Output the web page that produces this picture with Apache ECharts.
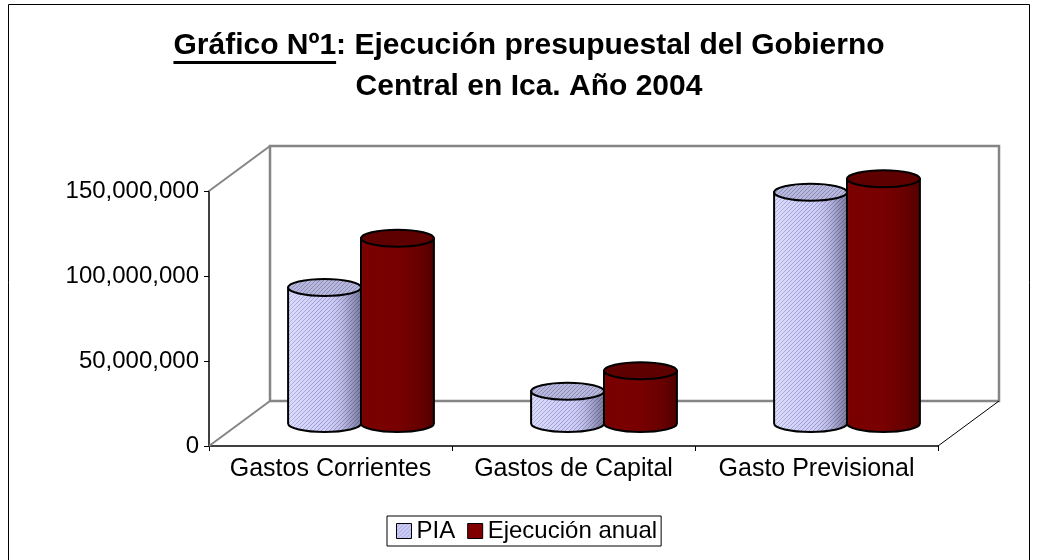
<!DOCTYPE html>
<html>
<head>
<meta charset="utf-8">
<script src="https://cdn.jsdelivr.net/npm/echarts@6/dist/echarts.min.js"></script>
<style>
  html, body { margin: 0; padding: 0; background: #fff; }
  #chart { width: 1038px; height: 560px; }
</style>
</head>
<body>
<div id="chart"></div>
<script>
const categories = ["Gastos Corrientes", "Gastos de Capital", "Gasto Previsional"];
const seriesNames = ["PIA", "Ejecución anual"];
const piaValues = [80000000, 19000000, 136000000];
const ejecucionValues = [109000000, 31000000, 144000000];
const yTicks = [0, 50000000, 100000000, 150000000];

const FONT = '"Liberation Sans", Arial, sans-serif';
// depth of the fake 3d box (back wall offset)
const DEPTH_X = 61;
const DEPTH_Y = -45;

function addCommas(v) {
  return String(v).replace(/\B(?=(\d{3})+(?!\d))/g, ",");
}

// small diagonal hatch used for the PIA fill
function makeHatch(bg, line) {
  const c = document.createElement("canvas");
  c.width = 4;
  c.height = 4;
  const g = c.getContext("2d");
  g.fillStyle = bg;
  g.fillRect(0, 0, 4, 4);
  g.fillStyle = line;
  for (let i = 0; i < 4; i++) g.fillRect(3 - i, i, 1, 1);
  return { image: c, repeat: "repeat" };
}
const piaHatch = makeHatch("#d0d0fa", "#9a9ad2");
const piaTopHatch = makeHatch("#b8b8dc", "#8a8ab8");

const styles = [
  {
    bodyFill: piaHatch,
    bodyOverlay: [
      [0, "rgba(255,255,255,0.25)"],
      [0.45, "rgba(255,255,255,0)"],
      [0.75, "rgba(40,40,70,0.15)"],
      [1, "rgba(30,30,60,0.5)"],
    ],
    topFill: piaTopHatch,
  },
  {
    bodyFill: "#7a0000",
    bodyOverlay: [
      [0, "rgba(255,120,120,0.18)"],
      [0.04, "rgba(255,120,120,0)"],
      [0.5, "rgba(0,0,0,0.02)"],
      [0.8, "rgba(0,0,0,0.15)"],
      [1, "rgba(0,0,0,0.35)"],
    ],
    topFill: "#5e0000",
  },
];

function renderCylinder(params, api) {
  const idx = params.seriesIndex - 1;
  const st = styles[idx];
  const cat = api.value(0);
  const base = api.coord([cat, 0]);
  const top = api.coord([cat, api.value(1)]);
  const band = api.size([1, 0])[0];
  const w = band * 0.3;
  const rx = w / 2;
  const ry = 8.5;
  const side = idx === 0 ? -1 : 1;
  const cx = base[0] + DEPTH_X / 2 + side * w / 2;
  const yb = base[1] + DEPTH_Y / 2;
  const yt = top[1] + DEPTH_Y / 2;
  const l = cx - rx;
  const r = cx + rx;
  const body = `M ${l} ${yt} L ${l} ${yb} A ${rx} ${ry} 0 0 0 ${r} ${yb} L ${r} ${yt} Z`;
  const cap = `M ${l} ${yt} A ${rx} ${ry} 0 1 0 ${r} ${yt} A ${rx} ${ry} 0 1 0 ${l} ${yt} Z`;
  return {
    type: "group",
    children: [
      { type: "path", shape: { pathData: body }, style: { fill: st.bodyFill, stroke: null } },
      {
        type: "path",
        shape: { pathData: body },
        style: {
          fill: new echarts.graphic.LinearGradient(0, 0, 1, 0, st.bodyOverlay.map(([o, c]) => ({ offset: o, color: c }))),
          stroke: "#000",
          lineWidth: 2,
        },
      },
      { type: "path", shape: { pathData: cap }, style: { fill: st.topFill, stroke: "#000", lineWidth: 2 } },
    ],
  };
}

function renderFrame(params) {
  const cs = params.coordSys;
  const x0 = cs.x, y0 = cs.y, w = cs.width, h = cs.height;
  const gray = "#858585";
  return {
    type: "group",
    children: [
      { type: "rect", shape: { x: x0 + DEPTH_X, y: y0 + DEPTH_Y, width: w, height: h }, style: { fill: null, stroke: gray, lineWidth: 2.5 } },
      { type: "line", shape: { x1: x0, y1: y0, x2: x0 + DEPTH_X, y2: y0 + DEPTH_Y }, style: { stroke: gray, lineWidth: 2 } },
      { type: "line", shape: { x1: x0, y1: y0 + h, x2: x0 + DEPTH_X, y2: y0 + h + DEPTH_Y }, style: { stroke: gray, lineWidth: 2 } },
      { type: "line", shape: { x1: x0 + w, y1: y0 + h, x2: x0 + w + DEPTH_X, y2: y0 + h + DEPTH_Y }, style: { stroke: "#000", lineWidth: 1 } },
    ],
  };
}

// title, with the first words underlined
const titleFont = "bold 30px " + FONT;
const titleLine1 = "Gráfico Nº1: Ejecución presupuestal del Gobierno";
const titleLine2 = "Central en Ica. Año 2004";
const underlined = "Gráfico Nº1";
const ctx = document.createElement("canvas").getContext("2d");
ctx.font = titleFont;
const titleCenter = 529;
const line1Left = titleCenter - ctx.measureText(titleLine1).width / 2;
const underlineW = ctx.measureText(underlined).width;

const chart = echarts.init(document.getElementById("chart"));
chart.setOption({
  animation: false,
  backgroundColor: "#fff",
  grid: { left: 209, top: 191, width: 729, height: 255, containLabel: false },
  xAxis: {
    type: "category",
    data: categories,
    axisLine: { lineStyle: { color: "#000", width: 1.5 } },
    axisTick: { show: true, length: 5, lineStyle: { color: "#000" } },
    axisLabel: { interval: 0, fontSize: 25, color: "#000", fontFamily: FONT, margin: 11 },
  },
  yAxis: {
    type: "value",
    min: yTicks[0],
    max: yTicks[yTicks.length - 1],
    interval: yTicks[1] - yTicks[0],
    axisLine: { show: true, lineStyle: { color: "#000", width: 1.5 } },
    axisTick: { show: true, length: 5, lineStyle: { color: "#000" } },
    splitLine: { show: false },
    axisLabel: { fontSize: 24, color: "#000", fontFamily: FONT, margin: 10, formatter: addCommas },
  },
  legend: {
    data: [
      { name: seriesNames[0], icon: "rect", itemStyle: { color: piaHatch, borderColor: "#000", borderWidth: 1 } },
      { name: seriesNames[1], icon: "rect", itemStyle: { color: "#800000", borderColor: "#000", borderWidth: 1 } },
    ],
    left: 387,
    top: 516,
    itemWidth: 15,
    itemHeight: 15,
    itemGap: 12,
    borderColor: "#000",
    borderWidth: 1,
    padding: [3, 4, 3, 9],
    textStyle: { fontSize: 24, color: "#000", fontFamily: FONT },
  },
  graphic: [
    { type: "rect", shape: { x: 8.5, y: 4.5, width: 1021, height: 600 }, style: { fill: null, stroke: "#000", lineWidth: 1 }, silent: true },
    { type: "text", x: line1Left, y: 46, style: { text: titleLine1, font: titleFont, fill: "#000", align: "left", verticalAlign: "middle" } },
    { type: "text", x: titleCenter, y: 87, style: { text: titleLine2, font: titleFont, fill: "#000", align: "center", verticalAlign: "middle" } },
    { type: "rect", shape: { x: line1Left, y: 61, width: underlineW, height: 3 }, style: { fill: "#000" } },
  ],
  series: [
    { type: "custom", name: "frame", data: [[0, 0]], renderItem: renderFrame, silent: true, z: 1, clip: false },
    {
      type: "custom",
      name: seriesNames[0],
      data: piaValues.map((v, i) => [i, v]),
      renderItem: renderCylinder,
      itemStyle: { color: "#ccccff" },
      z: 3,
      clip: false,
    },
    {
      type: "custom",
      name: seriesNames[1],
      data: ejecucionValues.map((v, i) => [i, v]),
      renderItem: renderCylinder,
      itemStyle: { color: "#800000" },
      z: 4,
      clip: false,
    },
  ],
});
</script>
</body>
</html>
